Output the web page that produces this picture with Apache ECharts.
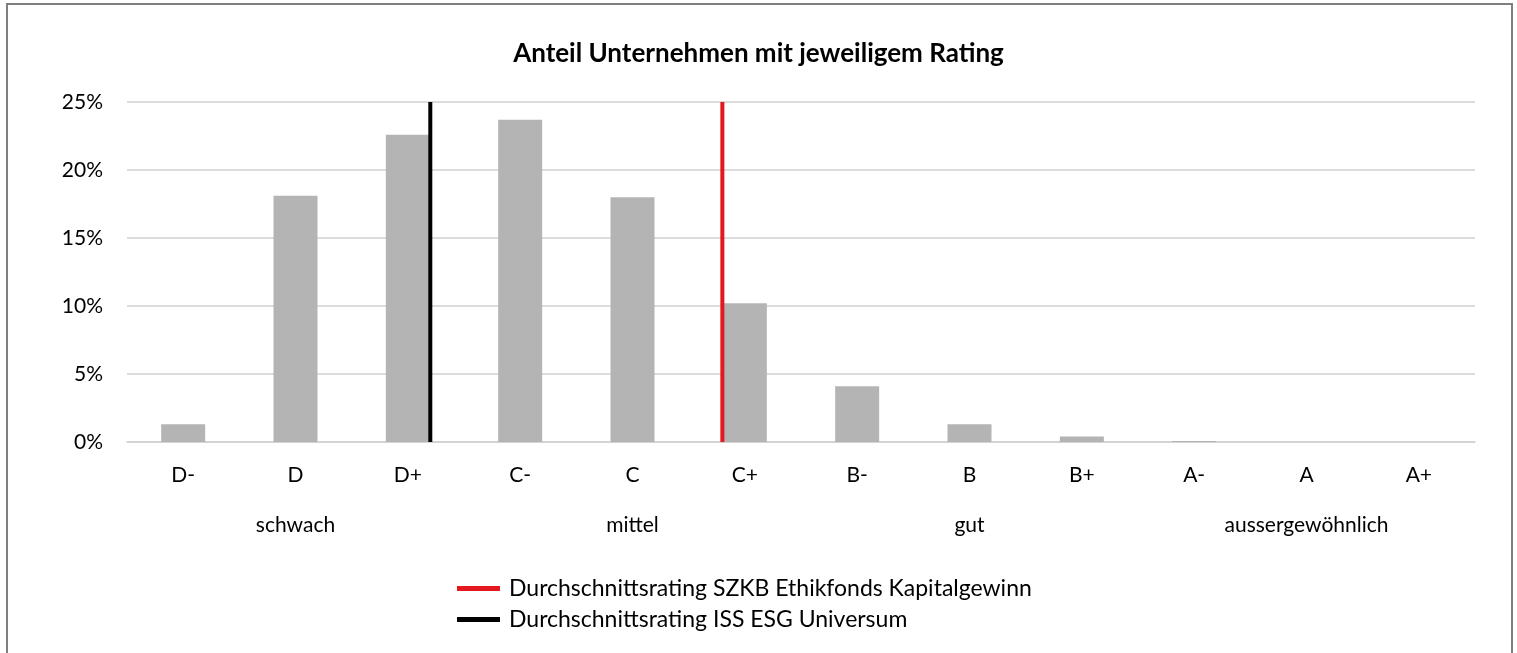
<!DOCTYPE html>
<html>
<head>
<meta charset="utf-8">
<script src="https://cdn.jsdelivr.net/npm/echarts@6/dist/echarts.min.js"></script>
<style>
  html, body { margin: 0; padding: 0; background: #fff; }
  #chart { width: 1517px; height: 653px; }
</style>
</head>
<body>
<div id="chart"></div>
<script>
const varFont = 'Lato';

// ratings and groups
const ratings = ['D-', 'D', 'D+', 'C-', 'C', 'C+', 'B-', 'B', 'B+', 'A-', 'A', 'A+'];
const groups = ['schwach', 'mittel', 'gut', 'aussergewöhnlich'];
// share of companies per rating (%)
const shares = [1.3, 18.1, 22.6, 23.7, 18.0, 10.2, 4.1, 1.3, 0.4, 0.07, 0, 0];
const yTicks = [0, 5, 10, 15, 20, 25];

// average ratings on the rating index scale (0 = D-)
const fundName = 'Durchschnittsrating SZKB Ethikfonds Kapitalgewinn';
const fundRating = 4.8;
const universeName = 'Durchschnittsrating ISS ESG Universum';
const universeRating = 2.2;

var myChart = echarts.init(document.getElementById('chart'));

var option = {
    animation: false,
    textStyle: {
        fontFamily: varFont,
    },
    title: {
        text: 'Anteil Unternehmen mit jeweiligem Rating',
        left: 'center',
        top: 36,
        textStyle: {
            fontFamily: varFont,
            fontSize: 26,
            fontWeight: 'bold',
            color: '#000',
        },
    },
    graphic: [
        {
            type: 'rect',
            shape: { x: 7, y: 4, width: 1505, height: 700 },
            style: { fill: 'none', stroke: '#7f7f7f', lineWidth: 2 },
            silent: true,
        },
    ],
    legend: {
        orient: 'vertical',
        left: 452,
        top: 572,
        itemWidth: 43,
        itemHeight: 5,
        itemGap: 8,
        icon: 'rect',
        data: [fundName, universeName],
        textStyle: {
            fontSize: 23,
            color: '#000',
            padding: [0, 0, 0, 4],
        },
    },
    grid: {
        left: 127,
        right: 42,
        top: 102,
        bottom: 211,
    },
    xAxis: [
        {
            type: 'category',
            data: ratings,
            axisLine: { lineStyle: { color: '#d0d0d0', width: 1.5 } },
            axisTick: { show: false },
            axisLabel: { fontSize: 21, color: '#000', margin: 23 },
        },
        {
            type: 'category',
            data: groups,
            position: 'bottom',
            offset: 50,
            axisLine: { show: false },
            axisTick: { show: false },
            axisLabel: { fontSize: 21, color: '#000', margin: 23 },
        },
        {
            type: 'value',
            min: -0.5,
            max: ratings.length - 0.5,
            show: false,
        },
    ],
    yAxis: {
        type: 'value',
        min: yTicks[0],
        max: yTicks[yTicks.length - 1],
        interval: 5,
        axisLine: { show: false },
        axisTick: { show: false },
        axisLabel: { formatter: '{value}%', fontSize: 21, color: '#000', margin: 24 },
        splitLine: { lineStyle: { color: '#d0d0d0', width: 1.5 } },
    },
    series: [
        {
            name: 'Anteil',
            type: 'bar',
            xAxisIndex: 0,
            data: shares,
            barWidth: 44,
            itemStyle: { color: '#b4b4b4' },
        },
        {
            name: fundName,
            type: 'line',
            xAxisIndex: 2,
            symbol: 'none',
            data: [[fundRating, 0], [fundRating, 25]],
            lineStyle: { color: '#e3191f', width: 4 },
            itemStyle: { color: '#e3191f' },
        },
        {
            name: universeName,
            type: 'line',
            xAxisIndex: 2,
            symbol: 'none',
            data: [[universeRating, 0], [universeRating, 25]],
            lineStyle: { color: '#000', width: 4 },
            itemStyle: { color: '#000' },
        },
    ],
};

myChart.setOption(option);
</script>
</body>
</html>
